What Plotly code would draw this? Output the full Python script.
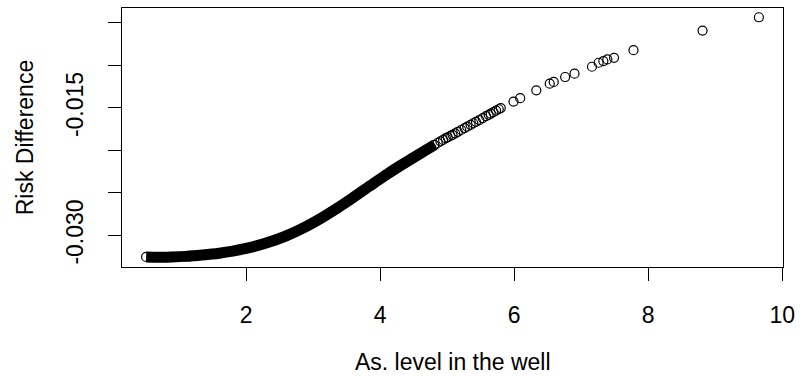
import plotly.graph_objects as go

# dense band of points
band_x = [0.51, 0.7, 0.9, 1.1, 1.35, 1.6, 1.8, 2.0, 2.3, 2.6, 2.85, 3.1, 3.35, 3.6, 3.85, 4.07, 4.3, 4.47,
          4.67, 4.81]
band_y = [-0.03252, -0.03255, -0.03253, -0.03246, -0.03230, -0.03209, -0.03185, -0.03153, -0.03089,
          -0.03004, -0.02913, -0.02806, -0.02684, -0.02553, -0.02416, -0.02297, -0.02180, -0.02098,
          -0.02002, -0.01936]

# individually visible points
pt_x = [3.90, 3.98, 4.07, 4.17, 4.27, 4.36, 4.47, 4.57, 4.67, 4.71, 4.76, 4.81, 4.86, 4.90, 4.94,
        4.98, 5.01, 5.05, 5.08, 5.12, 5.16, 5.21, 5.26, 5.30, 5.35, 5.39, 5.43, 5.48, 5.53, 5.58,
        5.62, 5.65, 5.69, 5.73, 5.77, 5.80, 5.99, 6.09, 6.33, 6.53, 6.59, 6.76, 6.90,
        7.16, 7.26, 7.33, 7.39, 7.49, 7.78, 8.81, 9.65]
pt_y = [-0.02387, -0.02345, -0.02297, -0.02246, -0.02194, -0.02151, -0.02098, -0.02050, -0.02002,
        -0.01984, -0.01961, -0.01936, -0.01912, -0.01893, -0.01876, -0.01856, -0.01847, -0.01829,
        -0.01816, -0.01799, -0.01781, -0.01759, -0.01737, -0.01720, -0.01698, -0.01680, -0.01663,
        -0.01642, -0.01619, -0.01597, -0.01581, -0.01567, -0.01550, -0.01532, -0.01515, -0.01501,
        -0.01425, -0.01385, -0.01292, -0.01214, -0.01194, -0.01136, -0.01097,
        -0.01015, -0.00968, -0.00948, -0.00929, -0.00910, -0.00820, -0.00589, -0.00433]

x_ticks = [2, 4, 6, 8, 10]
y_ticks = [-0.005, -0.010, -0.015, -0.020, -0.025, -0.030]
y_ticktext = ["", "", "-0.015", "", "", "-0.030"]

FONT = "Liberation Sans, Arial, Helvetica, sans-serif"

fig = go.Figure()
fig.add_trace(go.Scatter(x=band_x, y=band_y, mode="lines",
                         line=dict(color="black", width=11, shape="spline"),
                         hoverinfo="skip", showlegend=False))
fig.add_trace(go.Scatter(x=band_x + pt_x, y=band_y + pt_y, mode="markers",
                         marker=dict(symbol="circle-open", size=9, color="black",
                                     line=dict(color="black", width=1.2)),
                         showlegend=False))

axis_common = dict(showline=True, linecolor="black", linewidth=1, mirror=True,
                   ticks="outside", ticklen=13, tickwidth=1, tickcolor="black",
                   showgrid=False, zeroline=False,
                   tickfont=dict(family=FONT, size=23, color="black"))

fig.update_layout(
    width=802, height=376,
    margin=dict(l=122, r=14, t=7, b=109),
    paper_bgcolor="white", plot_bgcolor="white",
    xaxis=dict(range=[0.15, 10.01], tickvals=x_ticks, ticklabelstandoff=14, **axis_common),
    yaxis=dict(range=[-0.03371, -0.00324], tickvals=y_ticks, ticktext=y_ticktext,
               tickangle=-90, ticklabelstandoff=16, **axis_common),
    annotations=[
        dict(text="As. level in the well", xref="paper", yref="paper", x=0.5, y=-0.365,
             xanchor="center", yanchor="middle", showarrow=False,
             font=dict(family=FONT, size=23, color="black")),
        dict(text="Risk Difference", xref="paper", yref="paper", x=-0.147, y=0.5,
             xanchor="center", yanchor="middle", textangle=-90, showarrow=False,
             font=dict(family=FONT, size=23, color="black")),
    ],
)

fig.write_html("out.html", config={"displayModeBar": False},
               post_script="document.body.style.margin='0px';")
